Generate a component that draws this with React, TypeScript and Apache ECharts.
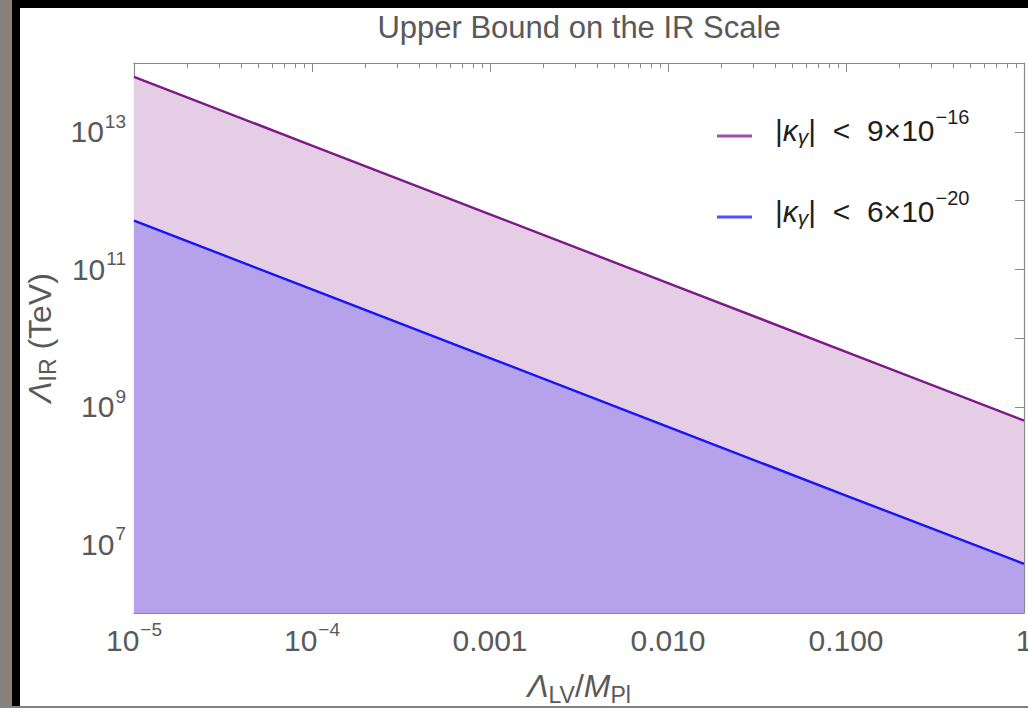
import React, { useEffect, useRef } from "react";
import * as echarts from "echarts";

// ---- data ----
const xValues = [1e-5, 1e-4, 1e-3, 1e-2, 1e-1, 1];
const upperBound916 = [6.3e13, 6.3e12, 6.3e11, 6.3e10, 6.3e9, 6.3e8]; // |κγ| < 9×10^-16
const upperBound620 = [5.1e11, 5.1e10, 5.1e9, 5.1e8, 5.1e7, 5.2e6]; // |κγ| < 6×10^-20

const seriesNames = ["|κγ| < 9×10−16", "|κγ| < 6×10−20"];
const legendRich = [
  "{p||}{it|κ}{sub|γ}{t||  <  9×10}{sup|−16}",
  "{p||}{it|κ}{sub|γ}{t||  <  6×10}{sup|−20}",
];

const xTickValues = [1e-5, 1e-4, 1e-3, 1e-2, 1e-1, 1];
const xTickLabels = ["{b|10}{s|−5}", "{b|10}{s|−4}", "{b|0.001}", "{b|0.010}", "{b|0.100}", "{b|1}"];
const xMinorMultipliers = [2, 3, 4, 5, 6, 7, 8, 9];

const yTickValues = [1e6, 1e7, 1e8, 1e9, 1e10, 1e11, 1e12, 1e13, 1e14];
const yLabelValues = [1e7, 1e9, 1e11, 1e13];
const yTickLabels = ["{b|10}{s|7}", "{b|10}{s|9}", "{b|10}{s|11}", "{b|10}{s|13}"];

const xMinorTicks: number[] = [];
for (let i = 0; i < xTickValues.length - 1; i++) {
  for (const m of xMinorMultipliers) xMinorTicks.push(m * xTickValues[i]);
}

const FONT = "Liberation Sans, Arial, sans-serif";
const AXIS_COLOR = "#8a8a8a";
const LABEL_COLOR = "#595959";
const LEGEND_COLOR = "#1e1e1e";

function nearestIndex(arr: number[], v: number) {
  let best = 0;
  let bd = Infinity;
  arr.forEach((a, i) => {
    const d = Math.abs(Math.log10(a) - Math.log10(v));
    if (d < bd) {
      bd = d;
      best = i;
    }
  });
  return best;
}

const tickRich = {
  b: { fontSize: 30, lineHeight: 40, verticalAlign: "top", padding: [5, 0, 0, 0], color: LABEL_COLOR, fontFamily: FONT },
  s: { fontSize: 19, lineHeight: 40, verticalAlign: "top", padding: [0, 0, 0, 1], color: LABEL_COLOR, fontFamily: FONT },
};

function xAxisDef(position: "top" | "bottom", minor: boolean, showLine: boolean, showLabel: boolean) {
  return {
    type: "log",
    logBase: 10,
    min: 1e-5,
    max: 1,
    position,
    axisLine: { show: showLine, lineStyle: { color: AXIS_COLOR, width: 1.2 } },
    axisTick: {
      show: true,
      inside: true,
      length: minor ? 5 : 9,
      lineStyle: { color: AXIS_COLOR, width: 1 },
      customValues: minor ? xMinorTicks : xTickValues,
    },
    axisLabel: showLabel
      ? {
          show: true,
          customValues: xTickValues,
          margin: 7,
          fontSize: 30,
          color: LABEL_COLOR,
          fontFamily: FONT,
          formatter: (v: number) => xTickLabels[nearestIndex(xTickValues, v)],
          rich: tickRich,
        }
      : { show: false },
    splitLine: { show: false },
    minorTick: { show: false },
  };
}

const nameRich = {
  it: { fontSize: 32, lineHeight: 30, fontStyle: "italic", color: LABEL_COLOR, fontFamily: FONT, verticalAlign: "top", padding: [2, 0, 0, 0] },
  t: { fontSize: 32, lineHeight: 30, color: LABEL_COLOR, fontFamily: FONT, verticalAlign: "top", padding: [2, 0, 0, 0] },
  ti: { fontSize: 32, lineHeight: 30, fontStyle: "italic", color: LABEL_COLOR, fontFamily: FONT, verticalAlign: "top", padding: [2, 0, 0, 0] },
  sub: { fontSize: 23, lineHeight: 30, color: LABEL_COLOR, fontFamily: FONT, verticalAlign: "top", padding: [15, 0, 0, 0] },
};

export default function App() {
  const ref = useRef<HTMLDivElement>(null);

  useEffect(() => {
    if (!ref.current) return;
    const chart = echarts.init(ref.current, undefined, { renderer: "svg" });
    const option: any = {
      animation: false,
      backgroundColor: "#ffffff",
      title: {
        text: "Upper Bound on the IR Scale",
        left: 559,
        top: 2,
        textAlign: "center",
        padding: 0,
        textStyle: { fontSize: 31, lineHeight: 34, fontWeight: "normal", color: LABEL_COLOR, fontFamily: FONT },
      },
      grid: { left: 114, top: 55, right: 4, bottom: 93, containLabel: false, outerBoundsMode: "none" },
      legend: {
        orient: "vertical",
        left: 697,
        top: 99,
        padding: 0,
        itemGap: 41,
        itemWidth: 35,
        itemHeight: 9,
        icon: "path://M0,0L0.05,0L0.05,0.05L0,0.05Z M0,6L35,6L35,9L0,9Z",
        data: [
          { name: seriesNames[0], itemStyle: { color: "#a24eae" } },
          { name: seriesNames[1], itemStyle: { color: "#5050ff" } },
        ],
        formatter: (name: string) => legendRich[seriesNames.indexOf(name)],
        textStyle: {
          color: LEGEND_COLOR,
          fontFamily: FONT,
          fontSize: 30,
          rich: {
            p: { fontSize: 30, lineHeight: 52, padding: [8, 0, 0, 18], color: LEGEND_COLOR, fontFamily: FONT, verticalAlign: "top" },
            t: { fontSize: 30, lineHeight: 52, padding: [8, 0, 0, 0], color: LEGEND_COLOR, fontFamily: FONT, verticalAlign: "top" },
            it: { fontSize: 30, lineHeight: 52, padding: [8, 0, 0, 0], fontStyle: "italic", color: LEGEND_COLOR, fontFamily: FONT, verticalAlign: "top" },
            sub: { fontSize: 21, lineHeight: 52, padding: [19, 0, 0, 0], fontStyle: "italic", color: LEGEND_COLOR, fontFamily: FONT, verticalAlign: "top" },
            sup: { fontSize: 20, lineHeight: 52, padding: [0, 0, 0, 1], color: LEGEND_COLOR, fontFamily: FONT, verticalAlign: "top" },
          },
        },
      },
      xAxis: [
        {
          ...xAxisDef("bottom", false, true, true),
          name: "{it|Λ}{sub|LV}{t|/}{ti|M}{sub|Pl}",
          nameLocation: "middle",
          nameGap: 55,
          nameTextStyle: { rich: nameRich },
        },
        xAxisDef("bottom", true, false, false),
        xAxisDef("top", false, true, false),
        xAxisDef("top", true, false, false),
      ],
      yAxis: [
        {
          type: "log",
          logBase: 10,
          min: 1e6,
          max: 1e14,
          position: "left",
          name: "{it|Λ}{sub|IR}{t| (TeV)}",
          nameLocation: "middle",
          nameRotate: 90,
          nameGap: 79,
          nameTextStyle: { rich: nameRich },
          axisLine: { show: true, lineStyle: { color: AXIS_COLOR, width: 1.2 } },
          axisTick: { show: true, inside: true, length: 9, lineStyle: { color: AXIS_COLOR }, customValues: yTickValues },
          axisLabel: {
            show: true,
            customValues: yLabelValues,
            margin: 8,
            formatter: (v: number) => yTickLabels[nearestIndex(yLabelValues, v)],
            rich: tickRich,
          },
          splitLine: { show: false },
        },
        {
          type: "log",
          logBase: 10,
          min: 1e6,
          max: 1e14,
          position: "right",
          axisLine: { show: true, lineStyle: { color: AXIS_COLOR, width: 1.2 } },
          axisTick: { show: true, inside: true, length: 9, lineStyle: { color: AXIS_COLOR }, customValues: yTickValues },
          axisLabel: { show: false },
          splitLine: { show: false },
        },
      ],
      series: [
        {
          name: seriesNames[0],
          type: "line",
          xAxisIndex: 0,
          yAxisIndex: 0,
          data: xValues.map((x, i) => [x, upperBound916[i]]),
          showSymbol: false,
          symbol: "none",
          lineStyle: { color: "#7d1a87", width: 2.4 },
          itemStyle: { color: "#7d1a87" },
          areaStyle: { color: "#e5cde6", opacity: 1, origin: "start" },
          z: 2,
        },
        {
          name: seriesNames[1],
          type: "line",
          xAxisIndex: 0,
          yAxisIndex: 0,
          data: xValues.map((x, i) => [x, upperBound620[i]]),
          showSymbol: false,
          symbol: "none",
          lineStyle: { color: "#1515f5", width: 2.4 },
          itemStyle: { color: "#1515f5" },
          areaStyle: { color: "#b5a2ea", opacity: 1, origin: "start" },
          z: 3,
        },
      ],
    };
    chart.setOption(option);
    return () => chart.dispose();
  }, []);

  return (
    <div style={{ position: "fixed", left: 0, top: 0, width: 1028, height: 708, background: "#86817a", overflow: "hidden" }}>
      <div style={{ position: "absolute", left: 12, top: 0, width: 1016, height: 706, background: "#000" }} />
      <div ref={ref} style={{ position: "absolute", left: 20, top: 8, width: 1008, height: 698, background: "#fff" }} />
    </div>
  );
}
